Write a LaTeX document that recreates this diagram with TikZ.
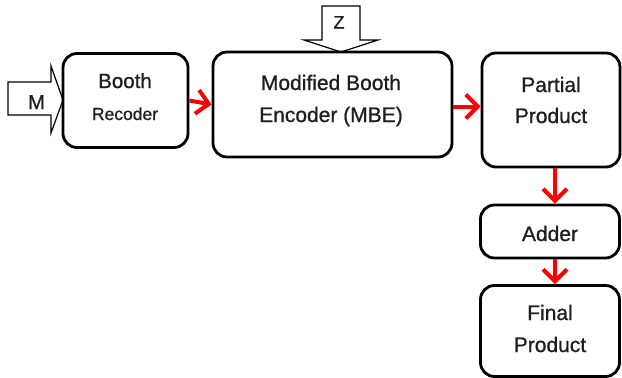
\documentclass[tikz,border=0pt]{standalone}
\usepackage{fontspec}
\setmainfont{Liberation Sans}
\newfontfamily\heavy{Liberation Sans}[FakeBold=0.8]
\usetikzlibrary{arrows.meta}
\definecolor{txt}{HTML}{1E1E1E}
\begin{document}
\begin{tikzpicture}[x=1pt,y=-1pt,
  blk/.style={draw=black, line width=2.8pt, rounded corners=14pt, fill=white, inner sep=0pt},
  lbl/.style={anchor=base, text=txt, inner sep=0pt, font=\heavy\fontsize{21}{25}\selectfont},
  redarr/.style={draw=red, line width=4pt, -{Straight Barb[length=12pt,width=24pt,line width=4pt]}},
  inarrow/.style={draw=black, line width=1.2pt, fill=white, line join=miter}
]
\useasboundingbox (0,0) rectangle (622,378);
% input arrows
\draw[inarrow] (8,82) -- (51,82) -- (51,66) -- (63,100) -- (51,133) -- (51,115) -- (8,115) -- cycle;
\node[lbl, font=\heavy\fontsize{20}{24}\selectfont] (m) at (36.5,109) {M};
\draw[inarrow] (322,6) -- (360,6) -- (360,40) -- (378,40) -- (341,52) -- (304,40) -- (322,40) -- cycle;
\node[lbl, font=\heavy\fontsize{18}{20}\selectfont] (z) at (339,28.5) {Z};
% blocks
\node[blk, minimum width=125pt, minimum height=94pt] (br) at (125.5,100.5) {};
\node[lbl, font=\heavy\fontsize{20.5}{24}\selectfont] (br1) at (125,88) {Booth};
\node[lbl, font=\heavy\fontsize{17.5}{20}\selectfont] (br2) at (125,120) {Recoder};
\node[blk, minimum width=239pt, minimum height=105pt] (mbe) at (332.5,104.5) {};
\node[lbl] (mbe1) at (331,90) {Modified Booth};
\node[lbl] (mbe2) at (331,122) {Encoder (MBE)};
\node[blk, minimum width=138pt, minimum height=114pt] (pp) at (551,110) {};
\node[lbl] (pp1) at (551,92) {Partial};
\node[lbl] (pp2) at (551,123) {Product};
\node[blk, minimum width=139pt, minimum height=53pt] (add) at (550,231.5) {};
\node[lbl] (add1) at (550,241) {Adder};
\node[blk, minimum width=139pt, minimum height=91pt] (fp) at (550,331) {};
\node[lbl] (fp1) at (550,320) {Final};
\node[lbl] (fp2) at (550,352) {Product};
% connectors
\draw[redarr] (br.east) -- (mbe.west);
\draw[redarr] ([yshift=-2pt]mbe.east) -- ([yshift=-2pt]mbe.east -| pp.west);
\draw[redarr] ([xshift=4pt]pp.south) -- ([xshift=5pt]add.north);
\draw[redarr] ([xshift=5pt]add.south) -- ([xshift=5pt]fp.north);
\end{tikzpicture}
\end{document}
